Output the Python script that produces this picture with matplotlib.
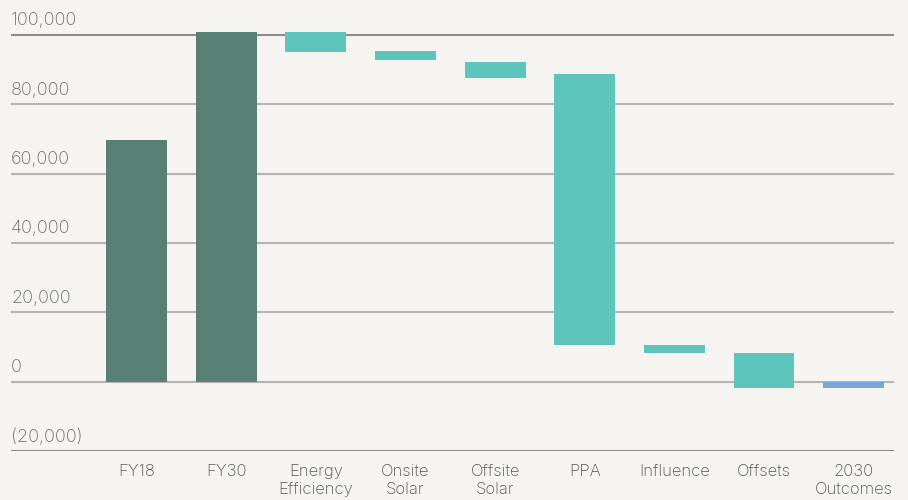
import matplotlib.pyplot as plt
import numpy as np

# categories and bar extents (start, end)
categories = ['FY18', 'FY30', 'Energy\nEfficiency', 'Onsite\nSolar', 'Offsite\nSolar',
              'PPA', 'Influence', 'Offsets', '2030\nOutcomes']
bar_low = [0, 0, 95000, 92800, 87600, 10500, 8400, -1900, -1900]
bar_high = [69700, 100800, 100800, 95300, 92200, 88700, 10700, 8400, 0]
bar_kind = ['total', 'total', 'step', 'step', 'step', 'step', 'step', 'step', 'result']

yticks = [-20000, 0, 20000, 40000, 60000, 80000, 100000]
ytick_labels = ['(20,000)', '0', '20,000', '40,000', '60,000', '80,000', '100,000']

colors = {'total': '#577f73', 'step': '#5ec5bd', 'result': '#7aa6d8'}
bg = '#f5f4f0'

plt.rcParams['font.family'] = ['Inter', 'DejaVu Sans']

fig = plt.figure(figsize=(9.08, 5), dpi=100, facecolor=bg)
ax = fig.add_axes([11 / 908, 1 - 451.3 / 500, (894 - 11) / 908, 451.3 / 500])
ax.set_facecolor(bg)

x = np.arange(len(categories))
heights = np.array(bar_high) - np.array(bar_low)

# gridlines
for i, v in enumerate(yticks):
    lc = '#8c8c8c' if v in (100000, -20000) else '#b3b3b3'
    ax.axhline(v, color=lc, lw=1.5, zorder=1)
    ax.text(0, v + 1600, ytick_labels[i], transform=ax.get_yaxis_transform(),
            ha='left', va='bottom', fontsize=13, color='#6b6b6b', fontweight='light')

ax.bar(x, heights, bottom=bar_low, width=0.68,
       color=[colors[k] for k in bar_kind], zorder=2)

ax.set_xlim(-1.4, 8.45)
ax.set_ylim(-20000, 110000)
ax.set_yticks([])
ax.set_xticks(x)
ax.set_xticklabels(categories, fontsize=12, color='#555555', linespacing=1.25,
                   fontweight='light')
ax.tick_params(axis='x', length=0, pad=9)
for s in ax.spines.values():
    s.set_visible(False)

fig.savefig('out.png', dpi=100, facecolor=bg)
